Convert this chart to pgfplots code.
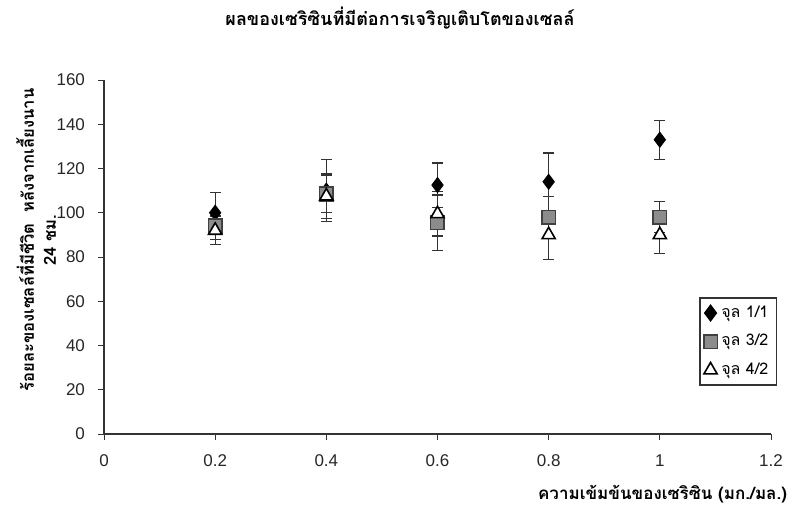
\documentclass[border=0pt]{standalone}
\usepackage{pgfplots}
\pgfplotsset{compat=1.18}
\usepackage{fontspec}
\setmainfont{Liberation Sans}
\newfontfamily\thaifont[Script=Thai]{Loma}
\definecolor{sqgray}{RGB}{140,140,140}
\begin{document}
\begin{tikzpicture}
\path[use as bounding box] (-52pt,-37.5pt) rectangle (348pt,217pt);
\begin{axis}[
  at={(0pt,0pt)}, anchor=south west,
  scale only axis, width=333.5pt, height=177pt,
  xmin=0, xmax=1.2, ymin=0, ymax=160,
  xtick={0,0.2,0.4,0.6,0.8,1,1.2},
  ytick={0,20,...,160},
  axis lines=left, axis line style={-, thick, black!80},
  tick align=outside, major tick length=3pt,
  tick style={black!80, thin},
  /pgf/number format/assume math mode=true,
  ticklabel style={font=\fontsize{8.5}{10}\selectfont, text=black!85},
  xticklabel style={yshift=-4pt},
  yticklabel style={xshift=-3pt},
  legend style={at={(0.892,0.387)}, anchor=north west, draw=black!80, thick,
    font=\thaifont\fontsize{8}{10}\selectfont, row sep=3pt, inner sep=2pt,
    legend cell align=left},
  legend image code/.code={\draw[#1] plot coordinates {(0.05cm,0cm)};},
  clip=false,
]
\addplot[only marks, mark=diamond*, mark size=3.8pt, draw=black, fill=black,
  error bars/.cd, y dir=both, y explicit, error bar style={black!80, semithick},
  error mark options={rotate=90, mark size=2.7pt, black!80, semithick}]
  coordinates {
  (0.2,100) +- (0,9)
  (0.4,110) +- (0,14)
  (0.6,112.5) +- (0,10)
  (0.8,114) +- (0,13)
  (1.0,133) +- (0,8.8)
  };
\addlegendentry{จุล 1/1}
\addplot[only marks, mark=square*, mark size=3.4pt, draw=black!75, fill=sqgray, thick,
  error bars/.cd, y dir=both, y explicit, error bar style={black!80, semithick},
  error mark options={rotate=90, mark size=2.7pt, black!80, semithick}]
  coordinates {
  (0.2,94) +- (0,6)
  (0.4,108.5) +- (0,8.5)
  (0.6,95.5) +- (0,12.5)
  (0.8,98) +- (0,9.5)
  (1.0,98) +- (0,7)
  };
\addlegendentry{จุล 3/2}
\addplot[only marks, mark=triangle*, mark size=3.8pt, draw=black, fill=white, thick,
  error bars/.cd, y dir=both, y explicit, error bar style={black!80, semithick},
  error mark options={rotate=90, mark size=2.7pt, black!80, semithick}]
  coordinates {
  (0.2,92) +- (0,6.5)
  (0.4,107.5) +- (0,10)
  (0.6,99.5) +- (0,10)
  (0.8,90) +- (0,11)
  (1.0,90) +- (0,8.5)
  };
\addlegendentry{จุล 4/2}
\end{axis}
\node[font=\thaifont\bfseries\fontsize{9}{11}\selectfont] at (148pt,208pt) {ผลของเซริซินที่มีต่อการเจริญเติบโตของเซลล์};
\node[font=\thaifont\bfseries\fontsize{8.3}{11}\selectfont, rotate=90, align=center] at (-34pt,97pt) {ร้อยละของเซลล์ที่มีชีวิต\ \ หลังจากเลี้ยงนาน\\24 ชม.};
\node[font=\thaifont\bfseries\fontsize{8.5}{11}\selectfont, anchor=east] at (345pt,-30pt) {ความเข้มข้นของเซริซิน (มก./มล.)};
\end{tikzpicture}
\end{document}
